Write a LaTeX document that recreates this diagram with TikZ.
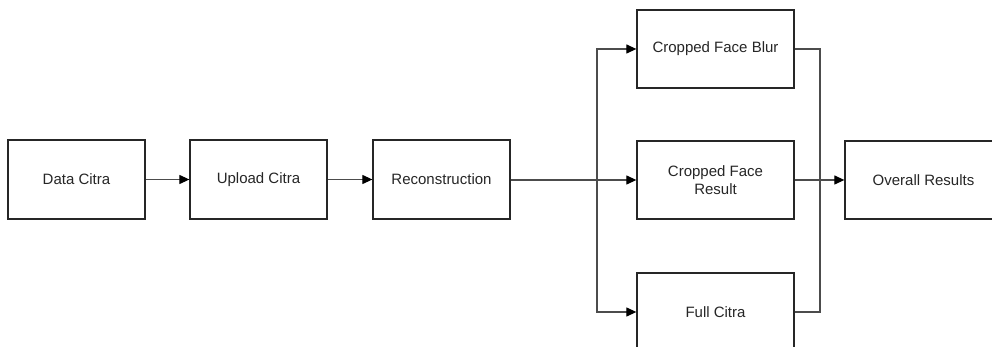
\documentclass[tikz,border=0pt]{standalone}
\usepackage{fontspec}
\setmainfont{Liberation Sans}
\usetikzlibrary{arrows.meta}
\begin{document}
\begin{tikzpicture}[x=1pt,y=-1pt,
  box/.style={draw=black!85,line width=1.3pt,minimum width=137pt,minimum height=79pt,inner sep=0pt,
    font=\fontsize{15}{18}\selectfont,text=black!85,align=center},
  wide/.style={box,minimum width=157pt,minimum height=78pt},
  link/.style={draw=black!70,line width=1.2pt},
  conn/.style={link,-{Triangle[length=10pt,width=9pt,fill=black,color=black]}}]
\useasboundingbox (0,0) rectangle (992,347);
\clip (0,0) rectangle (992,347);
\fill[white] (0,0) rectangle (992,347);
\node[box] (data) at (76.5,179.5) {Data Citra};
\node[box] (upload) at (258.5,179.5) {Upload Citra};
\node[box] (recon) at (441.5,179.5) {Reconstruction};
\node[wide] (blur) at (715.5,49) {Cropped Face Blur};
\node[wide] (face) at (715.5,180) {Cropped Face\\Result};
\node[wide] (full) at (715.5,312) {Full Citra};
\node[wide] (overall) at (923.5,180) {Overall Results};
\coordinate (split) at (597,180);
\coordinate (merge) at (820,180);
\draw[conn] (data) -- (upload);
\draw[conn] (upload) -- (recon);
\draw[link] (recon.east |- split) -- (split);
\draw[conn] (split) -- (face);
\draw[conn] (split) |- (blur);
\draw[conn] (split) |- (full);
\draw[link] (blur) -| (merge);
\draw[link] (full) -| (merge);
\draw[conn] (face) -- (overall);
\end{tikzpicture}
\end{document}
